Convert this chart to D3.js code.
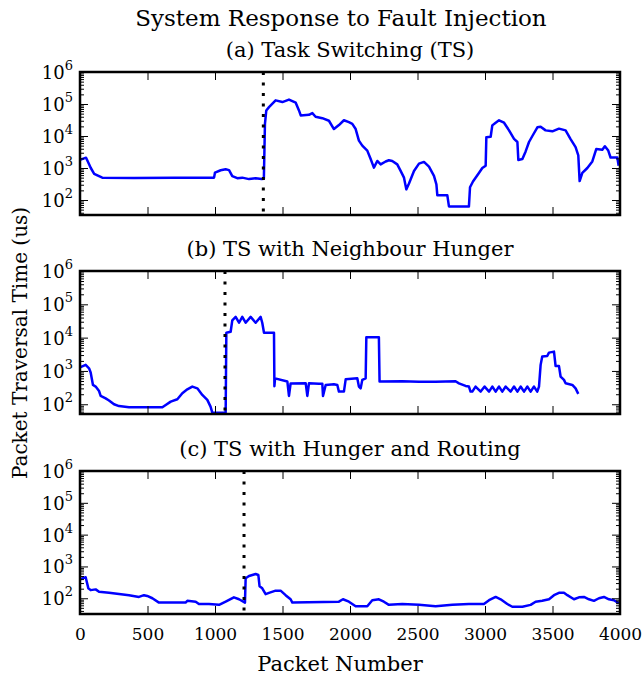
<!DOCTYPE html>
<html>
<head>
<meta charset="utf-8">
<script src="https://cdn.jsdelivr.net/npm/d3@7"></script>
<style>
  body { margin: 0; background: #fff; }
  svg text { font-family: "DejaVu Serif", serif; fill: #000; }
</style>
</head>
<body>
<svg id="chart" width="642" height="679"></svg>
<script>
// packet numbers and traversal times (us)
const packetsA = [0, 45, 80, 105, 165, 400, 700, 993, 1000, 1042, 1079, 1104, 1128, 1165, 1202, 1252, 1301, 1346, 1362,
  1370, 1380, 1400, 1449, 1499, 1548, 1598, 1622, 1635, 1696, 1721, 1745, 1795, 1844, 1881, 1918, 1955, 1992, 2017,
  2042, 2066, 2091, 2128, 2153, 2177, 2202, 2227, 2264, 2288, 2313, 2350, 2375, 2400, 2417, 2437, 2474, 2511, 2548,
  2585, 2622, 2640, 2647, 2721, 2733, 2881, 2889, 2911, 2955, 2980, 3005, 3010, 3042, 3054, 3079, 3104, 3141, 3178,
  3215, 3240, 3247, 3277, 3301, 3326, 3351, 3388, 3412, 3449, 3499, 3548, 3597, 3634, 3671, 3691, 3701, 3721, 3758,
  3795, 3824, 3869, 3888, 3913, 3930, 3980, 3990];
const valuesA = [1800, 2100, 1000, 660, 500, 490, 500, 500, 720, 850, 910, 860, 560, 480, 500, 450, 480, 450, 460,
  24000, 63000, 80000, 130000, 115000, 137000, 110000, 63000, 44000, 46000, 52000, 40000, 36000, 30000, 16500, 22000, 31000, 27000, 24000,
  16500, 7200, 5000, 3500, 1900, 1030, 1660, 1300, 1600, 1750, 1650, 1300, 810, 500, 215, 330, 810, 1370, 1550,
  1100, 570, 310, 140, 140, 63, 63, 250, 380, 700, 1000, 1180, 9100, 9500, 21500, 26000, 31000, 26000, 15000,
  8100, 6500, 1790, 1900, 3300, 6500, 10000, 18700, 19500, 15000, 14000, 17000, 15000, 8000, 4500, 2500, 390, 700, 1000,
  1600, 3900, 3700, 4800, 3500, 2130, 2130, 1180];

const packetsB = [0, 42, 67, 79, 96, 116, 141, 153, 190, 215, 252, 289, 363, 610, 635, 672, 721, 758, 795, 832,
  869, 906, 943, 967, 980, 1079, 1084, 1116, 1128, 1153, 1178, 1202, 1227, 1264, 1301, 1338, 1350, 1363, 1437, 1440,
  1445, 1536, 1548, 1560, 1672, 1684, 1696, 1770, 1795, 1800, 1820, 1881, 1906, 1918, 1955, 1968, 2054, 2066, 2079,
  2091, 2116, 2121, 2214, 2219, 2387, 2511, 2634, 2782, 2807, 2856, 2881, 2893, 2906, 2930, 2968, 2997, 3030, 3054,
  3079, 3104, 3128, 3153, 3190, 3215, 3240, 3264, 3289, 3314, 3338, 3363, 3387, 3400, 3412, 3424, 3461, 3474, 3511,
  3523, 3548, 3560, 3585, 3597, 3647, 3671, 3691];
const valuesB = [1290, 1520, 1200, 900, 380, 340, 250, 178, 150, 130, 100, 88, 81, 81, 95, 120, 141, 215, 280, 340,
  300, 190, 135, 85, 56, 56, 14000, 15000, 33000, 42000, 28000, 42000, 28000, 42000, 28000, 42000, 28000, 14000, 14000, 350,
  600, 480, 178, 420, 425, 178, 425, 410, 410, 178, 380, 400, 380, 240, 240, 560, 600, 340, 300,
  540, 600, 10200, 10200, 480, 490, 470, 470, 490, 425, 355, 340, 240, 240, 340, 240, 340, 240, 340,
  240, 340, 240, 340, 240, 340, 240, 340, 240, 340, 240, 340, 240, 340, 1520, 2700, 2800, 3550, 3800,
  1400, 1400, 680, 540, 425, 380, 300, 205];

const packetsC = [0, 42, 62, 79, 116, 141, 215, 289, 363, 437, 474, 498, 536, 585, 782, 795, 857, 881, 955, 1030, 1079,
  1140, 1178, 1222, 1227, 1252, 1301, 1321, 1330, 1350, 1375, 1400, 1449, 1486, 1523, 1560, 1573, 1918, 1948, 1992,
  2042, 2128, 2165, 2214, 2251, 2288, 2387, 2511, 2634, 2758, 2881, 2992, 3030, 3079, 3116, 3165, 3202, 3277, 3338,
  3375, 3424, 3474, 3511, 3548, 3585, 3610, 3659, 3696, 3733, 3770, 3807, 3844, 3881, 3918, 3955, 3990];
const valuesC = [390, 460, 205, 180, 190, 160, 148, 135, 125, 110, 125, 118, 100, 73, 73, 83, 78, 66, 66, 62, 78,
  107, 93, 73, 425, 500, 580, 540, 240, 205, 135, 148, 173, 173, 125, 93, 73, 78, 93, 78,
  56, 56, 87, 93, 78, 62, 66, 62, 56, 62, 66, 66, 87, 110, 93, 66, 54, 54, 62,
  78, 83, 93, 125, 148, 148, 125, 93, 107, 110, 93, 83, 100, 110, 93, 87, 70];

const panelTitles = ["(a) Task Switching (TS)", "(b) TS with Neighbour Hunger", "(c) TS with Hunger and Routing"];
const faultPackets = [1358, 1074, 1215];
const yMins = [34, 51, 32];
const xTicks = [0, 500, 1000, 1500, 2000, 2500, 3000, 3500, 4000];
const decades = [1e2, 1e3, 1e4, 1e5, 1e6];

const series = [
  packetsA.map((p, i) => [p, valuesA[i]]),
  packetsB.map((p, i) => [p, valuesB[i]]),
  packetsC.map((p, i) => [p, valuesC[i]])
];

const svg = d3.select("#chart");
const left = 80, right = 620;
const tops = [72, 271, 471], panelH = 143;

const x = d3.scaleLinear().domain([0, 4000]).range([left, right]);

svg.append("text")
  .attr("x", 341).attr("y", 26)
  .attr("text-anchor", "middle")
  .style("font-size", "23px")
  .text("System Response to Fault Injection");

tops.forEach((top, k) => {
  const y = d3.scaleLog().domain([yMins[k], 1e6]).range([top + panelH, top]);
  const g = svg.append("g");

  g.append("text")
    .attr("x", (left + right) / 2).attr("y", top - 15)
    .attr("text-anchor", "middle")
    .style("font-size", "21px")
    .text(panelTitles[k]);

  const clipId = "clip" + k;
  g.append("clipPath").attr("id", clipId)
    .append("rect").attr("x", left).attr("y", top).attr("width", right - left).attr("height", panelH);

  const line = d3.line().x(d => x(d[0])).y(d => y(d[1]));
  g.append("path")
    .datum(series[k])
    .attr("clip-path", "url(#" + clipId + ")")
    .attr("fill", "none")
    .attr("stroke", "#0000ff")
    .attr("stroke-width", 2.5)
    .attr("stroke-linejoin", "round")
    .attr("d", line);

  g.append("line")
    .attr("x1", x(faultPackets[k])).attr("x2", x(faultPackets[k]))
    .attr("y1", top).attr("y2", top + panelH)
    .attr("stroke", "#000")
    .attr("stroke-width", 3)
    .attr("stroke-dasharray", "3,7.5");

  // minor log ticks
  const minor = [];
  for (let e = 1; e < 6; e++) {
    for (let m = 2; m < 10; m++) {
      const v = m * Math.pow(10, e);
      if (v >= yMins[k] && v <= 1e6) minor.push(v);
    }
  }

  const tickStyle = sel => {
    sel.select(".domain").remove();
    sel.selectAll(".tick line").attr("stroke", "#000").attr("stroke-width", 1);
  };

  g.append("g").attr("transform", `translate(${left},0)`)
    .call(d3.axisLeft(y).tickValues(minor).tickSize(-4).tickFormat(""))
    .call(tickStyle);
  g.append("g").attr("transform", `translate(${right},0)`)
    .call(d3.axisRight(y).tickValues(minor).tickSize(-4).tickFormat(""))
    .call(tickStyle);
  g.append("g").attr("transform", `translate(${left},0)`)
    .call(d3.axisLeft(y).tickValues(decades).tickSize(-8).tickFormat(""))
    .call(tickStyle);
  g.append("g").attr("transform", `translate(${right},0)`)
    .call(d3.axisRight(y).tickValues(decades).tickSize(-8).tickFormat(""))
    .call(tickStyle);

  // x ticks on top and bottom, pointing in
  g.append("g").attr("transform", `translate(0,${top})`)
    .call(d3.axisTop(x).tickValues(xTicks).tickSize(-8).tickFormat(""))
    .call(tickStyle);
  const bottomAxis = g.append("g").attr("transform", `translate(0,${top + panelH})`)
    .call(d3.axisBottom(x).tickValues(xTicks).tickSize(-8).tickPadding(14)
      .tickFormat(k === 2 ? d3.format("d") : ""))
    .call(tickStyle);
  bottomAxis.selectAll("text")
    .style("font-family", '"DejaVu Serif", serif')
    .style("font-size", "17px");

  // y labels 10^n
  decades.forEach(v => {
    const t = g.append("text")
      .attr("x", left - 7).attr("y", y(v) + 7)
      .attr("text-anchor", "end")
      .style("font-size", "18px");
    t.append("tspan").text("10");
    t.append("tspan").attr("dy", -9).style("font-size", "13px").text(Math.round(Math.log10(v)));
  });

  g.append("rect")
    .attr("x", left).attr("y", top)
    .attr("width", right - left).attr("height", panelH)
    .attr("fill", "none")
    .attr("stroke", "#000")
    .attr("stroke-width", 2.5);
});

svg.append("text")
  .attr("x", 340).attr("y", 671)
  .attr("text-anchor", "middle")
  .style("font-size", "21px")
  .text("Packet Number");

svg.append("text")
  .attr("transform", "translate(27,343) rotate(-90)")
  .attr("text-anchor", "middle")
  .style("font-size", "20px")
  .text("Packet Traversal Time (us)");
</script>
</body>
</html>
